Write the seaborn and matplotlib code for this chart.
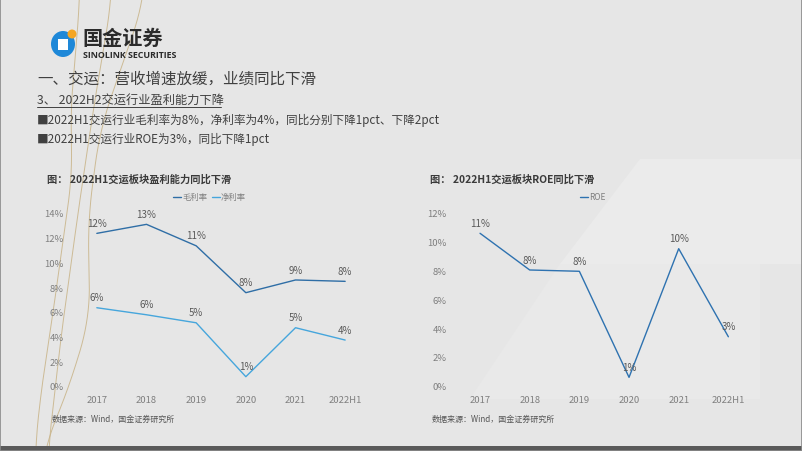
import numpy as np
import pandas as pd
import matplotlib.pyplot as plt
import seaborn as sns
from matplotlib.lines import Line2D
from matplotlib.patches import Ellipse, Rectangle, Polygon

# 数据 (读图估计, 单位 %)
years = ['2017', '2018', '2019', '2020', '2021', '2022H1']
gross_margin = [12.35, 13.08, 11.34, 7.54, 8.57, 8.46]
net_margin = [6.32, 5.75, 5.10, 0.73, 4.70, 3.70]
roe = [10.59, 8.04, 7.95, 0.58, 9.52, 3.40]

sns.set_theme(style='white')
plt.rcParams['font.family'] = ['Noto Sans CJK SC', 'DejaVu Sans']

W, H = 802, 452
bg = '#e6e6e6'
fig = plt.figure(figsize=(W / 100, H / 100), dpi=100, facecolor=bg)


def fx(x):
    return np.asarray(x) / W


def fy(y):
    return 1 - np.asarray(y) / H


# 背景装饰: 浅色斜块
for pts, c in [([(560, 265), (640, 160), (802, 160), (802, 265)], '#ebebeb'),
               ([(470, 400), (560, 265), (760, 265), (760, 400)], '#e9e9e9')]:
    fig.patches.append(Polygon([(fx(a), fy(b)) for a, b in pts], closed=True,
                               transform=fig.transFigure, facecolor=c,
                               edgecolor='none', zorder=0))

# 左侧金色曲线
yy = np.linspace(0, H, 200)
for ctrl_y, ctrl_x in [([0, 130, 220, 320, 400, 452], [145, 100, 88, 90, 65, 42]),
                       ([0, 120, 170, 300, 400, 452], [80, 70, 73, 55, 40, 35]),
                       ([0, 100, 200, 330, 452], [112, 95, 80, 62, 48])]:
    xx = np.interp(yy, ctrl_y, ctrl_x)
    xx = np.convolve(np.pad(xx, 15, mode='edge'), np.ones(31) / 31, mode='valid')
    fig.add_artist(Line2D(fx(xx), fy(yy), color='#c8b387', lw=0.7, alpha=0.85, zorder=1))

# 底部深色条和边框
fig.patches.append(Rectangle((0, 0), 1, float(fy(447)), transform=fig.transFigure,
                             facecolor='#5a5a5a', edgecolor='none', zorder=2))
fig.patches.append(Rectangle((0, 0), 1, 1, transform=fig.transFigure,
                             facecolor='none', edgecolor='#8a8a8a', lw=1.2, zorder=2))

# logo
fig.patches.append(Ellipse((fx(63), fy(45)), 24 / W, 26 / H, transform=fig.transFigure,
                           facecolor='#1e88d8', edgecolor='none', zorder=3))
fig.patches.append(Rectangle((fx(58), fy(51)), 10 / W, 11 / H, transform=fig.transFigure,
                             facecolor='white', edgecolor='none', zorder=4))
fig.patches.append(Ellipse((fx(72), fy(35)), 9 / W, 9 / H, transform=fig.transFigure,
                           facecolor='#f5a623', edgecolor='none', zorder=5))
fig.text(fx(82), fy(38), '国金证券', fontsize=14.5, fontweight='bold', color='#2b2b2b', va='center')
fig.text(fx(83), fy(55), 'SINOLINK SECURITIES', fontsize=6.4, fontweight='bold',
         color='#2b2b2b', va='center', family=['Open Sans', 'DejaVu Sans'])

# 标题文字
dark = '#404040'
fig.text(fx(37), fy(79), '一、交运：营收增速放缓，业绩同比下滑', fontsize=11.2, color=dark, va='center')
fig.text(fx(37), fy(100), '3、 2022H2交运行业盈利能力下降', fontsize=8.8, color=dark, va='center')
fig.add_artist(Line2D(fx([37, 221]), fy([108, 108]), color=dark, lw=0.7))
fig.text(fx(37), fy(120), '■2022H1交运行业毛利率为8%，净利率为4%，同比分别下降1pct、下降2pct',
         fontsize=8.4, color=dark, va='center')
fig.text(fx(37), fy(139), '■2022H1交运行业ROE为3%，同比下降1pct', fontsize=8.4, color=dark, va='center')

c_gross = '#2f6ea6'
c_net = '#46a6dc'
c_roe = '#2e72b0'
tick_c = '#7f7f7f'


def make_axes(left, ymax, series, title, title_x, legend_pos, src_x):
    ax = fig.add_axes([fx(left), fy(386.7), 298 / W, 172.7 / H])
    ax.set_zorder(5)
    ax.set_facecolor('none')
    for name, vals, col in series:
        d = pd.DataFrame({'year': years, 'v': vals})
        sns.lineplot(data=d, x='year', y='v', ax=ax, color=col, lw=1.0, sort=False)
        for i, v in enumerate(vals):
            ax.annotate(f'{v:.0f}%', (i, v), xytext=(0, 7.5), textcoords='offset points',
                        ha='center', va='center', fontsize=7, color='#595959',
                        annotation_clip=False)
    ax.set_xlim(-0.5, 5.5)
    ax.set_ylim(0, ymax)
    ax.set_yticks(range(0, ymax + 1, 2))
    ax.set_yticklabels([f'{v}%' for v in range(0, ymax + 1, 2)])
    ax.set_xlabel('')
    ax.set_ylabel('')
    ax.tick_params(axis='both', length=0, labelsize=6.8, labelcolor=tick_c)
    ax.tick_params(axis='y', pad=6)
    ax.tick_params(axis='x', pad=7)
    for s in ax.spines.values():
        s.set_visible(False)
    ax.grid(False)
    fig.text(fx(title_x), fy(180), title, fontsize=7.4, fontweight='bold', color='#3a3a3a', va='center')
    # 图例
    for (name, vals, col), x in zip(series, legend_pos):
        fig.add_artist(Line2D(fx([x, x + 8]), fy([198, 198]), color=col, lw=1.0))
        fig.text(fx(x + 9), fy(198), name, fontsize=6.0, color=tick_c, va='center')
    fig.text(fx(src_x), fy(419), '数据来源：Wind，国金证券研究所', fontsize=5.8, color='#555555',
             style='italic', va='center')
    return ax


make_axes(72, 14, [('毛利率', gross_margin, c_gross), ('净利率', net_margin, c_net)],
          '图： 2022H1交运板块盈利能力同比下滑', 47, [173, 212], 52)
make_axes(455.2, 12, [('ROE', roe, c_roe)],
          '图： 2022H1交运板块ROE同比下滑', 430, [580], 432)

fig.savefig('out.png', dpi=100, facecolor=bg)
